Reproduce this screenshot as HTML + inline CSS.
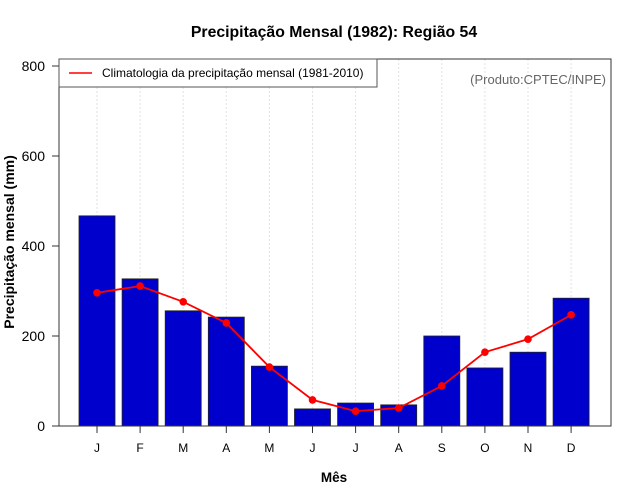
<!DOCTYPE html>
<html><head><meta charset="utf-8"><style>body{margin:0;background:#fff}svg{display:block}text{font-family:"Liberation Sans",sans-serif}</style></head>
<body>
<svg id="c" width="640" height="500" xmlns="http://www.w3.org/2000/svg">
<text x="334" y="37" text-anchor="middle" font-size="15.8" font-weight="bold">Precipitação Mensal (1982): Região 54</text>
<text x="334" y="482" text-anchor="middle" font-size="13.5" font-weight="bold">Mês</text>
<text transform="translate(14,242) rotate(-90)" text-anchor="middle" font-size="14" font-weight="bold">Precipitação mensal (mm)</text>
<g id="grid"></g><g id="bars"></g><g id="line"></g><g id="axes"></g>
<rect x="59" y="59" width="318" height="28" fill="#fff" stroke="#555"/>
<line x1="69" y1="73" x2="92" y2="73" stroke="red" stroke-width="1.5"/>
<text x="102" y="77" font-size="12">Climatologia da precipitação mensal (1981-2010)</text>
<text x="606" y="84" text-anchor="end" font-size="13" fill="#666">(Produto:CPTEC/INPE)</text>
</svg>
<script>
const months=["J","F","M","A","M","J","J","A","S","O","N","D"];
const precip=[467,327,256,242,133,38,51,47,200,129,164,284];
const clim=[296,311,276,229,131,58,33,40,89,164,193,247];
const yTicks=[0,200,400,600,800];
const NS="http://www.w3.org/2000/svg";
const X0=59,X1=611,Y0=426,Y1=59;
const xs=i=>97+i*43.1;
const ys=v=>426-v*0.45;
function mk(p,t,a){const e=document.createElementNS(NS,t);for(const k in a)e.setAttribute(k,a[k]);document.getElementById(p).appendChild(e);return e;}
months.forEach((m,i)=>{const g=mk('grid','line',{x1:xs(i),x2:xs(i),y1:Y1,y2:Y0,stroke:'#e2e2e2','stroke-dasharray':'2,2'});

});
precip.forEach((v,i)=>{const b=mk('bars','rect',{x:xs(i)-18,y:ys(v),width:36,height:Y0-ys(v),fill:'#0000cc',stroke:'#222','stroke-width':0.8});

});
const pl=mk('line','polyline',{points:clim.map((v,i)=>xs(i)+','+ys(v)).join(' '),fill:'none',stroke:'red','stroke-width':1.8});


clim.forEach((v,i)=>{const c=mk('line','circle',{cx:xs(i),cy:ys(v),r:3.8,fill:'red'});

});
const fr=mk('axes','rect',{x:X0,y:Y1,width:X1-X0,height:Y0-Y1,fill:'none',stroke:'#333'});


yTicks.forEach(t=>{mk('axes','line',{x1:52,x2:X0,y1:ys(t),y2:ys(t),stroke:'#333'});
const l=mk('axes','text',{x:45,y:ys(t)+5,'text-anchor':'end','font-size':14});l.textContent=t;

});
months.forEach((m,i)=>{mk('axes','line',{x1:xs(i),x2:xs(i),y1:Y0,y2:433,stroke:'#333'});
const l=mk('axes','text',{x:xs(i),y:452,'text-anchor':'middle','font-size':12});l.textContent=m;

});
</script>
</body></html>
